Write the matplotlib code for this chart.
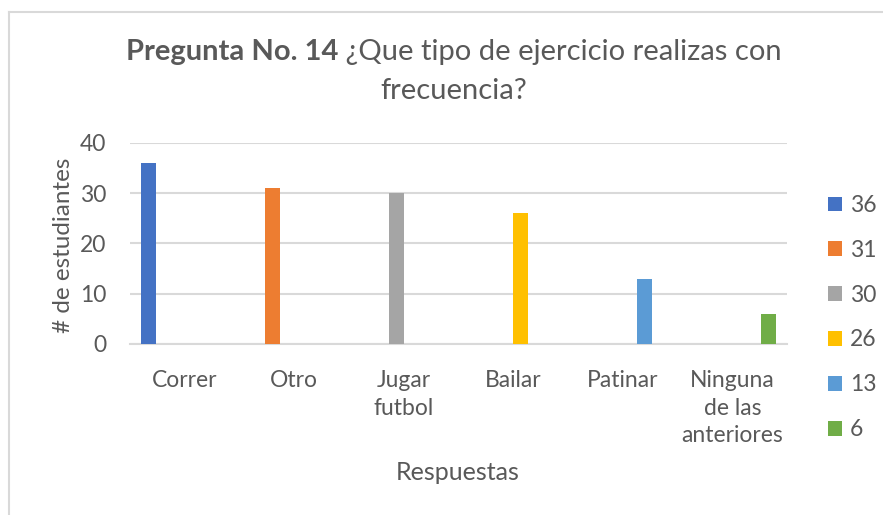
import matplotlib
matplotlib.use("Agg")
import matplotlib.pyplot as plt
from matplotlib.lines import Line2D
import numpy as np

# data
categories = ["Correr", "Otro", "Jugar\nfutbol", "Bailar", "Patinar", "Ninguna\nde las\nanteriores"]
counts = [36, 31, 30, 26, 13, 6]
series_labels = ["36", "31", "30", "26", "13", "6"]
colors = ["#4472C4", "#ED7D31", "#A5A5A5", "#FFC000", "#5B9BD5", "#70AD47"]
yticks = [0, 10, 20, 30, 40]

txt = "#595959"
grid = "#D9D9D9"
plt.rcParams["font.family"] = ["Lato", "DejaVu Sans"]

W, H = 883, 515
fig = plt.figure(figsize=(W / 100, H / 100), dpi=100)

# chart frame (only top and left visible in the crop)
fig.add_artist(Line2D([9 / W, 9 / W], [0, 1 - 12 / H], transform=fig.transFigure, color=grid, lw=1.5))
fig.add_artist(Line2D([9 / W, 1], [1 - 12 / H, 1 - 12 / H], transform=fig.transFigure, color=grid, lw=1.5))

ax = fig.add_axes([130 / W, 1 - 344 / H, 657 / W, 201 / H])

# clustered bars: each series only has a value in its own category
n = len(counts)
w = 0.1324
x = np.arange(n)
handles = []
for j in range(n):
    vals = [counts[j] if i == j else 0 for i in range(n)]
    bars = ax.bar(x + (j - (n - 1) / 2) * w, vals, width=w * 0.98, color=colors[j], zorder=3)
    handles.append(bars)

ax.set_xlim(-0.5, n - 0.5)
ax.set_ylim(0, 40)
ax.set_yticks(yticks)
ax.set_xticks(x)
ax.set_xticklabels(categories, linespacing=1.38)
ax.tick_params(axis="both", length=0, labelsize=16.5, colors=txt)
ax.tick_params(axis="y", pad=17)
ax.tick_params(axis="x", pad=19)
ax.yaxis.grid(True, color=grid, lw=1.5, zorder=0)
for s in ["top", "right", "left"]:
    ax.spines[s].set_visible(False)
ax.spines["bottom"].set_color(grid)
ax.spines["bottom"].set_linewidth(1.5)

fig.text(63 / W, 1 - 245 / H, "# de estudiantes", rotation=90, ha="center", va="center",
         fontsize=17.5, color=txt)
fig.text(458 / W, 1 - 473 / H, "Respuestas", ha="center", va="center", fontsize=18, color=txt)

# title with bold prefix
fig.canvas.draw()
r = fig.canvas.get_renderer()
t1 = fig.text(0, 1 - 52 / H, "Pregunta No. 14", fontsize=21, fontweight="bold", color=txt, va="center")
t2 = fig.text(0, 1 - 52 / H, " \u00bfQue tipo de ejercicio realizas con", fontsize=21, color=txt, va="center")
w1 = t1.get_window_extent(r).width
w2 = t2.get_window_extent(r).width
x0 = 454 - (w1 + w2) / 2
t1.set_x(x0 / W)
t2.set_x((x0 + w1) / W)
fig.text(454 / W, 1 - 91 / H, "frecuencia?", fontsize=21, color=txt, ha="center", va="center")

leg = fig.legend(handles, series_labels, loc="upper left", bbox_to_anchor=(828 / W, 1 - 195 / H),
                 frameon=False, fontsize=16.5, labelcolor=txt, handlelength=0.62, handleheight=0.62,
                 handletextpad=0.35, labelspacing=1.04, borderpad=0, borderaxespad=0)

plt.savefig("out.png", dpi=100)
